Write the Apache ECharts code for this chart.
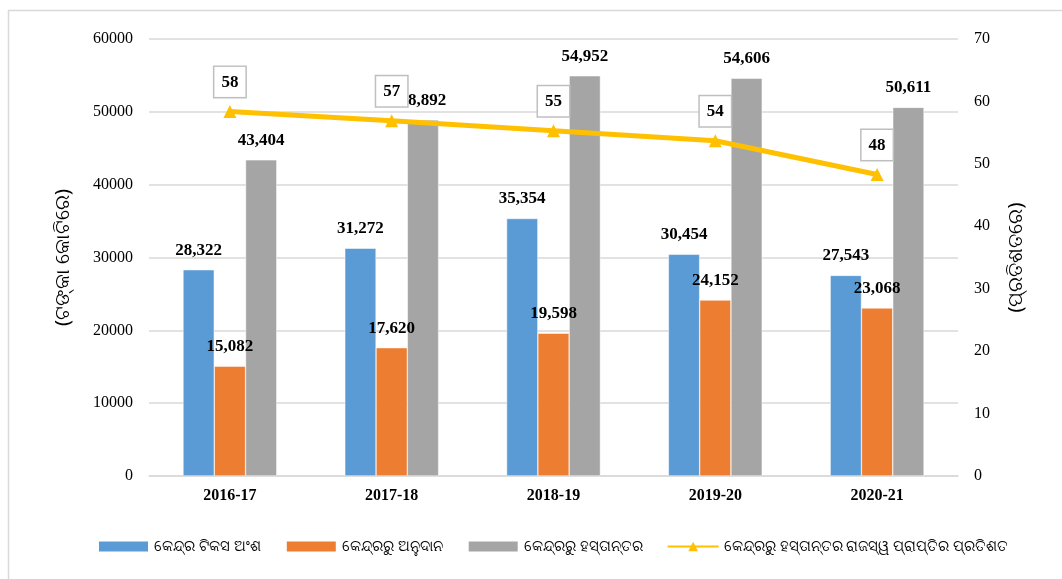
<!DOCTYPE html>
<html>
<head>
<meta charset="utf-8">
<style>
  html, body { margin: 0; padding: 0; background: #fff; }
  #chart { width: 1062px; height: 579px; }
</style>
<script src="https://cdn.jsdelivr.net/npm/echarts@6/dist/echarts.min.js"></script>
</head>
<body>
<div id="chart"></div>
<script>
// data
const years = ['2016-17', '2017-18', '2018-19', '2019-20', '2020-21']
const taxShare = [28322, 31272, 35354, 30454, 27543]
const grants = [15082, 17620, 19598, 24152, 23068]
const transfers = [43404, 48892, 54952, 54606, 50611]
const transferPct = [58.4, 56.9, 55.3, 53.7, 48.3]

const seriesNames = [
  'କେନ୍ଦ୍ର ଟିକସ ଅଂଶ',
  'କେନ୍ଦ୍ରରୁ ଅନୁଦାନ',
  'କେନ୍ଦ୍ରରୁ ହସ୍ତାନ୍ତର',
  'କେନ୍ଦ୍ରରୁ ହସ୍ତାନ୍ତର ରାଜସ୍ୱ ପ୍ରାପ୍ତିର ପ୍ରତିଶତ'
]
const leftTitle = '(ଟଙ୍କା କୋଟିରେ)'
const rightTitle = '(ପ୍ରତିଶତରେ)'

const serif = '"Liberation Serif", "Times New Roman", serif'
const odia = '"Noto Sans", "DejaVu Sans", sans-serif'

const chart = echarts.init(document.getElementById('chart'))

function barSeries(name, data, color) {
  return {
    name,
    data,
    type: 'bar',
    barGap: '0%',
    barCategoryGap: '42%',
    itemStyle: {
      color,
      borderColor: '#fff',
      borderWidth: 0.5
    },
    label: {
      show: true,
      position: 'top',
      distance: 11,
      fontFamily: serif,
      fontWeight: 'bold',
      fontSize: 17,
      color: '#000',
      formatter: p => p.value.toLocaleString('en-US')
    }
  }
}

const option = {
  animation: false,
  backgroundColor: '#fff',
  graphic: [{
    type: 'rect',
    shape: { x: 8.5, y: 10.5, width: 1100, height: 600 },
    style: { fill: 'none', stroke: '#d9d9d9', lineWidth: 1.5 },
    z: -1
  }],
  grid: {
    left: 149,
    right: 104,
    top: 39,
    bottom: 103
  },
  legend: {
    bottom: 20,
    left: 92,
    itemWidth: 51,
    itemHeight: 12,
    itemGap: 24,
    textStyle: {
      fontFamily: odia,
      fontSize: 15,
      color: '#000'
    },
    data: [
      { name: seriesNames[0], icon: 'rect' },
      { name: seriesNames[1], icon: 'rect' },
      { name: seriesNames[2], icon: 'rect' },
      { name: seriesNames[3] }
    ]
  },
  xAxis: [{
    type: 'category',
    data: years,
    axisTick: { show: false },
    axisLine: { lineStyle: { color: '#d9d9d9', width: 1.5 } },
    axisLabel: {
      fontFamily: serif,
      fontWeight: 'bold',
      fontSize: 16,
      color: '#000',
      margin: 12
    }
  }],
  yAxis: [{
    type: 'value',
    min: 0,
    max: 60000,
    interval: 10000,
    name: leftTitle,
    nameLocation: 'middle',
    nameGap: 76,
    nameTextStyle: { fontFamily: odia, fontSize: 20, color: '#000' },
    axisLine: { show: false },
    axisTick: { show: false },
    axisLabel: {
      fontFamily: serif,
      fontSize: 16,
      color: '#000',
      margin: 16,
      formatter: v => String(v)
    },
    splitLine: { lineStyle: { color: '#d9d9d9', width: 1.5 } }
  }, {
    type: 'value',
    min: 0,
    max: 70,
    interval: 10,
    name: rightTitle,
    nameLocation: 'middle',
    nameGap: 48,
    nameTextStyle: { fontFamily: odia, fontSize: 20, color: '#000' },
    axisLine: { show: false },
    axisTick: { show: false },
    axisLabel: { fontFamily: serif, fontSize: 16, color: '#000', margin: 16 },
    splitLine: { show: false }
  }],
  series: [
    barSeries(seriesNames[0], taxShare, '#5b9bd5'),
    barSeries(seriesNames[1], grants, '#ed7d31'),
    barSeries(seriesNames[2], transfers, '#a5a5a5'),
    {
      name: seriesNames[3],
      type: 'line',
      yAxisIndex: 1,
      data: transferPct,
      z: 5,
      symbol: 'triangle',
      symbolSize: 13,
      lineStyle: { color: '#ffc000', width: 5 },
      itemStyle: { color: '#ffc000' },
      label: {
        show: true,
        position: 'top',
        distance: 8,
        fontFamily: serif,
        fontWeight: 'bold',
        fontSize: 17,
        color: '#000',
        backgroundColor: '#fff',
        borderColor: '#bfbfbf',
        borderWidth: 1.5,
        padding: [7, 7, 6, 7],
        formatter: p => Math.round(p.value)
      }
    }
  ]
}

chart.setOption(option)
</script>
</body>
</html>
